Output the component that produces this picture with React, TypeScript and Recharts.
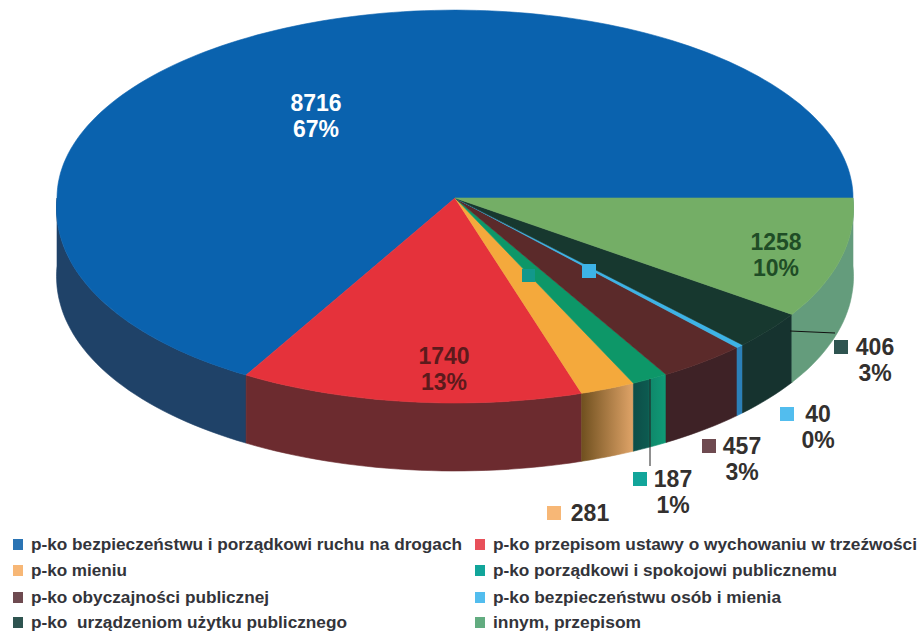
import { PieChart, Pie } from "recharts";

const names = [
  "p-ko bezpieczeństwu i porządkowi ruchu na drogach",
  "p-ko przepisom ustawy o wychowaniu w trzeźwości",
  "p-ko mieniu",
  "p-ko porządkowi i spokojowi publicznemu",
  "p-ko obyczajności publicznej",
  "p-ko bezpieczeństwu osób i mienia",
  "p-ko  urządzeniom użytku publicznego",
  "innym, przepisom",
];
const values = [8716, 1740, 281, 187, 457, 40, 406, 1258];
const percents = ["67%", "13%", "", "1%", "3%", "0%", "3%", "10%"];

const TOP_COLORS = ["#0a62ae", "#e5323b", "#f4a93c", "#0d9768", "#5b2a2a", "#3db3e6", "#17382f", "#74ae66"];
const WALL_COLORS = ["#1f4268", "#6c2b2f", "url(#wallOrange)", "url(#wallGreen)", "#3e2226", "#2b80b8", "#16332f", "#649c7c"];
const KEY_COLORS = ["#2a74b4", "#e8505a", "#f7b776", "#12a59a", "#6e4a50", "#52bdee", "#2e5450", "#62ac80"];
const LABEL_COLORS = ["#ffffff", "#5c1a1c", "#33302e", "#33302e", "#33302e", "#33302e", "#33302e", "#1f4d26"];

// label centre per slice: [x, y of first line, key x or null]
const LABEL_AT: [number, number, number | null][] = [
  [316, 103, null],
  [444, 356, null],
  [590, 513, 554],
  [673, 479, 640],
  [742, 446, 709],
  [818, 414, 787],
  [875, 347, 841],
  [776, 242, null],
];

// legend key x, row y, text width
const LEGEND_AT: [number, number, number][] = [
  [13, 544, 431],
  [475, 544, 424],
  [13, 570, 96],
  [475, 570, 344],
  [13, 597, 238],
  [475, 597, 288],
  [13, 622, 316],
  [475, 622, 148],
];

const WIDTH = 920;
const HEIGHT = 633;
const CX = 455;
const CY = 198;
const RADIUS = 398;
const DEPTH = 68;

// pie polar angle -> point on the tilted disc, front slightly larger than the back
function rimPoint(cx: number, cy: number, r: number, deg: number) {
  const a = (deg * Math.PI) / 180;
  const down = -Math.sin(a);
  const front = Math.max(0, down);
  const x = cx + r * Math.cos(a) * (1 + 0.05 * front);
  const y = cy + r * (down > 0 ? 0.515 : 0.472) * down;
  return [x, y];
}

function rimPath(cx: number, cy: number, r: number, from: number, to: number) {
  const pts: string[] = [];
  const steps = Math.max(2, Math.ceil(Math.abs(to - from) / 1.5));
  for (let i = 0; i <= steps; i++) {
    const [x, y] = rimPoint(cx, cy, r, from + ((to - from) * i) / steps);
    pts.push(`${x.toFixed(1)},${y.toFixed(1)}`);
  }
  return pts;
}

function TopSlice(props: any) {
  const { cx, cy, outerRadius, startAngle, endAngle, fill } = props;
  const pts = rimPath(cx, cy, outerRadius, startAngle, endAngle);
  return <path d={`M${cx},${cy} L${pts.join(" L")} Z`} fill={fill} stroke={fill} strokeWidth={0.6} />;
}

function WallSlice(props: any) {
  const { cx, cy, outerRadius, startAngle, endAngle, payload } = props;
  // only the part of the rim facing the viewer has a wall
  const from = Math.max(startAngle, 180);
  const to = Math.min(endAngle, 360);
  if (to <= from) return null;
  const upper = rimPath(cx, cy, outerRadius, from, to);
  const lower = rimPath(cx, cy + DEPTH, outerRadius, to, from);
  return <path d={`M${upper.join(" L")} L${lower.join(" L")} Z`} fill={payload.wall} stroke={payload.wall} strokeWidth={0.6} />;
}

function SliceLabel({ index }: any) {
  const [x, y, keyX] = LABEL_AT[index];
  return (
    <g fontFamily="Liberation Sans, Arial, sans-serif" fontWeight={700} fontSize={23} textAnchor="middle" fill={LABEL_COLORS[index]}>
      {index === 3 && <line x1={650} y1={379} x2={650} y2={466} stroke="#222" strokeWidth={1} />}
      {index === 3 && <rect x={522} y={269} width={13} height={13} fill="#12988c" />}
      {index === 5 && <rect x={582} y={264} width={14} height={14} fill="#3db3e6" />}
      {index === 6 && <line x1={790} y1={331} x2={835} y2={333} stroke="#111" strokeWidth={1} />}
      {keyX !== null && <rect x={keyX - 7} y={y - 7} width={14} height={14} fill={KEY_COLORS[index]} />}
      <text x={x} y={y + 8}>{values[index]}</text>
      {percents[index] && <text x={x} y={y + 34}>{percents[index]}</text>}
    </g>
  );
}

const rows = names.map((name, i) => ({
  name,
  value: values[i],
  fill: TOP_COLORS[i],
  wall: WALL_COLORS[i],
}));

export default function App() {
  return (
    <div style={{ position: "absolute", left: 0, top: 0, width: WIDTH, height: HEIGHT, background: "#fff" }}>
      <PieChart width={WIDTH} height={HEIGHT} margin={{ top: 0, right: 0, bottom: 0, left: 0 }}>
        <defs>
          <linearGradient id="wallOrange" x1="0" y1="0" x2="1" y2="0">
            <stop offset="0%" stopColor="#70501f" />
            <stop offset="100%" stopColor="#e0a468" />
          </linearGradient>
          <linearGradient id="wallGreen" x1="0" y1="0" x2="1" y2="0">
            <stop offset="0%" stopColor="#0d4e48" />
            <stop offset="45%" stopColor="#0d5a50" />
            <stop offset="55%" stopColor="#0f8a6c" />
            <stop offset="100%" stopColor="#0f9a76" />
          </linearGradient>
        </defs>
        <Pie
          data={rows}
          dataKey="value"
          nameKey="name"
          cx={CX}
          cy={CY}
          outerRadius={RADIUS}
          startAngle={0}
          endAngle={360}
          stroke="none"
          shape={WallSlice}
          isAnimationActive={false}
        />
        <Pie
          data={rows}
          dataKey="value"
          nameKey="name"
          cx={CX}
          cy={CY}
          outerRadius={RADIUS}
          startAngle={0}
          endAngle={360}
          stroke="none"
          shape={TopSlice}
          label={SliceLabel}
          labelLine={false}
          isAnimationActive={false}
        />
        {names.map((name, i) => {
          const [x, y, len] = LEGEND_AT[i];
          return (
            <g key={name}>
              <rect x={x} y={y - 5} width={10} height={11} fill={KEY_COLORS[i]} />
              <text
                x={x + 18}
                y={y + 6}
                fontFamily="Liberation Sans, Arial, sans-serif"
                fontWeight={700}
                fontSize={16}
                fill="#33343a"
                textLength={len}
                lengthAdjust="spacingAndGlyphs"
                xmlSpace="preserve"
              >
                {name}
              </text>
            </g>
          );
        })}
      </PieChart>
    </div>
  );
}
